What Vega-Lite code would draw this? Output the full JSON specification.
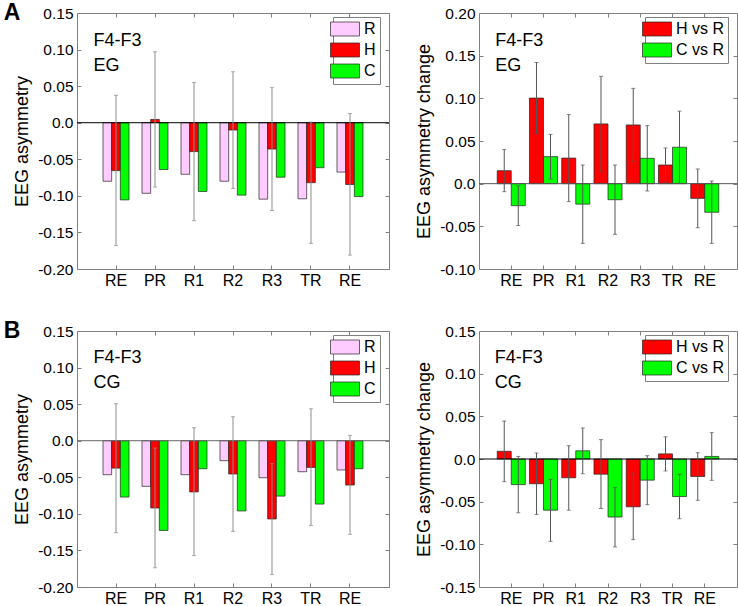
{
  "$schema": "https://vega.github.io/schema/vega-lite/v6.json",
  "padding": {"left": 3, "top": 1, "right": 0, "bottom": 0},
  "datasets": {
    "dA": [
      {"phase": "RE", "grp": "R", "val": -0.080},
      {"phase": "RE", "grp": "H", "val": -0.0655, "lo": -0.168, "hi": 0.0375},
      {"phase": "RE", "grp": "C", "val": -0.1055},
      {"phase": "PR", "grp": "R", "val": -0.0965},
      {"phase": "PR", "grp": "H", "val": 0.0045, "lo": -0.088, "hi": 0.097},
      {"phase": "PR", "grp": "C", "val": -0.064},
      {"phase": "R1", "grp": "R", "val": -0.0705},
      {"phase": "R1", "grp": "H", "val": -0.0395, "lo": -0.134, "hi": 0.055},
      {"phase": "R1", "grp": "C", "val": -0.094},
      {"phase": "R2", "grp": "R", "val": -0.080},
      {"phase": "R2", "grp": "H", "val": -0.010, "lo": -0.0898, "hi": 0.0697},
      {"phase": "R2", "grp": "C", "val": -0.099},
      {"phase": "R3", "grp": "R", "val": -0.1045},
      {"phase": "R3", "grp": "H", "val": -0.036, "lo": -0.120, "hi": 0.048},
      {"phase": "R3", "grp": "C", "val": -0.0745},
      {"phase": "TR", "grp": "R", "val": -0.104},
      {"phase": "TR", "grp": "H", "val": -0.082, "lo": -0.165, "hi": 0.001},
      {"phase": "TR", "grp": "C", "val": -0.0615},
      {"phase": "RE (end)", "grp": "R", "val": -0.0675},
      {"phase": "RE (end)", "grp": "H", "val": -0.0845, "lo": -0.181, "hi": 0.0125},
      {"phase": "RE (end)", "grp": "C", "val": -0.101}
    ],
    "dB": [
      {"phase": "RE", "grp": "H vs R", "val": 0.0152, "lo": -0.0094, "hi": 0.040},
      {"phase": "RE", "grp": "C vs R", "val": -0.0258, "lo": -0.049, "hi": -0.0026},
      {"phase": "PR", "grp": "H vs R", "val": 0.1003, "lo": 0.059, "hi": 0.142},
      {"phase": "PR", "grp": "C vs R", "val": 0.0317, "lo": 0.0055, "hi": 0.0578},
      {"phase": "R1", "grp": "H vs R", "val": 0.030, "lo": -0.021, "hi": 0.081},
      {"phase": "R1", "grp": "C vs R", "val": -0.024, "lo": -0.070, "hi": 0.0219},
      {"phase": "R2", "grp": "H vs R", "val": 0.070, "lo": 0.014, "hi": 0.1258},
      {"phase": "R2", "grp": "C vs R", "val": -0.0188, "lo": -0.0594, "hi": 0.0219},
      {"phase": "R3", "grp": "H vs R", "val": 0.0688, "lo": 0.0258, "hi": 0.1117},
      {"phase": "R3", "grp": "C vs R", "val": 0.0297, "lo": -0.0086, "hi": 0.068},
      {"phase": "TR", "grp": "H vs R", "val": 0.0219, "lo": 0.002, "hi": 0.0418},
      {"phase": "TR", "grp": "C vs R", "val": 0.0427, "lo": 0.0004, "hi": 0.085},
      {"phase": "RE (end)", "grp": "H vs R", "val": -0.0172, "lo": -0.0516, "hi": 0.0172},
      {"phase": "RE (end)", "grp": "C vs R", "val": -0.0335, "lo": -0.070, "hi": 0.0031}
    ],
    "dC": [
      {"phase": "RE", "grp": "R", "val": -0.0465},
      {"phase": "RE", "grp": "H", "val": -0.0375, "lo": -0.1258, "hi": 0.0506},
      {"phase": "RE", "grp": "C", "val": -0.077},
      {"phase": "PR", "grp": "R", "val": -0.0624},
      {"phase": "PR", "grp": "H", "val": -0.092, "lo": -0.1737, "hi": -0.010},
      {"phase": "PR", "grp": "C", "val": -0.1226},
      {"phase": "R1", "grp": "R", "val": -0.0465},
      {"phase": "R1", "grp": "H", "val": -0.070, "lo": -0.157, "hi": 0.0178},
      {"phase": "R1", "grp": "C", "val": -0.0383},
      {"phase": "R2", "grp": "R", "val": -0.0273},
      {"phase": "R2", "grp": "H", "val": -0.0455, "lo": -0.124, "hi": 0.0328},
      {"phase": "R2", "grp": "C", "val": -0.096},
      {"phase": "R3", "grp": "R", "val": -0.0506},
      {"phase": "R3", "grp": "H", "val": -0.107, "lo": -0.183, "hi": -0.0314},
      {"phase": "R3", "grp": "C", "val": -0.0757},
      {"phase": "TR", "grp": "R", "val": -0.0424},
      {"phase": "TR", "grp": "H", "val": -0.0365, "lo": -0.116, "hi": 0.0437},
      {"phase": "TR", "grp": "C", "val": -0.0866},
      {"phase": "RE (end)", "grp": "R", "val": -0.040},
      {"phase": "RE (end)", "grp": "H", "val": -0.0606, "lo": -0.128, "hi": 0.0073},
      {"phase": "RE (end)", "grp": "C", "val": -0.0383}
    ],
    "dD": [
      {"phase": "RE", "grp": "H vs R", "val": 0.009, "lo": -0.0266, "hi": 0.0445},
      {"phase": "RE", "grp": "C vs R", "val": -0.030, "lo": -0.063, "hi": 0.003},
      {"phase": "PR", "grp": "H vs R", "val": -0.029, "lo": -0.065, "hi": 0.007},
      {"phase": "PR", "grp": "C vs R", "val": -0.060, "lo": -0.0965, "hi": -0.0238},
      {"phase": "R1", "grp": "H vs R", "val": -0.022, "lo": -0.060, "hi": 0.0156},
      {"phase": "R1", "grp": "C vs R", "val": 0.0096, "lo": -0.0172, "hi": 0.0363},
      {"phase": "R2", "grp": "H vs R", "val": -0.0178, "lo": -0.058, "hi": 0.0227},
      {"phase": "R2", "grp": "C vs R", "val": -0.068, "lo": -0.103, "hi": -0.0336},
      {"phase": "R3", "grp": "H vs R", "val": -0.056, "lo": -0.0945, "hi": -0.0172},
      {"phase": "R3", "grp": "C vs R", "val": -0.0248, "lo": -0.0535, "hi": 0.0039},
      {"phase": "TR", "grp": "H vs R", "val": 0.006, "lo": -0.014, "hi": 0.026},
      {"phase": "TR", "grp": "C vs R", "val": -0.044, "lo": -0.070, "hi": -0.018},
      {"phase": "RE (end)", "grp": "H vs R", "val": -0.0205, "lo": -0.0484, "hi": 0.0074},
      {"phase": "RE (end)", "grp": "C vs R", "val": 0.003, "lo": -0.025, "hi": 0.0309}
    ]
  },
  "config": {
    "font": "Liberation Sans",
    "view": {"stroke": "#808080", "strokeWidth": 1},
    "axis": {
      "domain": false, "grid": false, "tickColor": "#808080", "tickSize": -4, "labelPadding": 8,
      "labelFont": "Liberation Sans", "labelFontSize": 15.5, "labelColor": "#000",
      "titleFont": "Liberation Sans", "titleFontSize": 18, "titleFontWeight": "normal", "titleColor": "#000", "titlePadding": 6
    },
    "legend": {
      "orient": "none", "title": null,
      "symbolType": "M-2.07,-1H2.07V1H-2.07Z", "symbolSize": 196,
      "symbolStrokeColor": "#222", "symbolStrokeWidth": 0.7, "symbolOpacity": 1,
      "labelFont": "Liberation Sans", "labelFontSize": 16, "labelColor": "#000", "labelOffset": 11,
      "rowPadding": 3, "padding": 4, "strokeColor": "#808080", "fillColor": "white"
    }
  },
  "columns": 2,
  "spacing": {"row": 62, "column": 90},
  "bounds": "flush",
  "resolve": {"scale": {"fill": "independent", "xOffset": "independent"}, "legend": {"fill": "independent"}},
  "concat": [
    {
      "width": 312, "height": 256,
      "data": {"name": "dA"},
      "resolve": {"axis": {"x": "independent", "y": "independent"}},
      "layer": [
        {
          "mark": {"type": "bar", "stroke": "#222", "strokeWidth": 0.7, "width": {"band": 1}},
          "encoding": {
            "x": {"field": "phase", "type": "nominal", "scale": {"type": "band", "domain": ["RE", "PR", "R1", "R2", "R3", "TR", "RE (end)"], "paddingInner": 0.3333, "paddingOuter": 0.6667}, "axis": {"orient": "bottom", "title": null, "labelAngle": 0, "labelFontSize": 16, "labelPadding": 7.5, "labelExpr": "datum.label == 'RE (end)' ? 'RE' : datum.label"}},
            "xOffset": {"field": "grp", "type": "nominal", "scale": {"type": "band", "domain": ["R", "H", "C"], "paddingInner": 0, "paddingOuter": 0}},
            "y": {"field": "val", "type": "quantitative", "scale": {"domain": [-0.2, 0.15], "nice": false, "zero": false}, "axis": {"orient": "left", "title": "EEG asymmetry", "values": [-0.2, -0.15, -0.1, -0.05, 0, 0.05, 0.1, 0.15], "labelExpr": "datum.value == 0 ? '0.0' : replace(format(datum.value, '.2f'), '\u2212', '-')"}},
            "fill": {"field": "grp", "type": "nominal", "scale": {"domain": ["R", "H", "C"], "range": ["#FFCCFF", "#FF0000", "#00FF00"]}, "legend": {"legendX": 256, "legendY": 4}}
          }
        },
        {
          "mark": {"type": "bar", "opacity": 0, "width": {"band": 1}},
          "encoding": {
            "x": {"field": "phase", "type": "nominal", "axis": {"orient": "top", "labels": false, "title": null}},
            "xOffset": {"field": "grp", "type": "nominal"},
            "y": {"field": "val", "type": "quantitative", "axis": {"orient": "right", "labels": false, "title": null, "values": [-0.2, -0.15, -0.1, -0.05, 0, 0.05, 0.1, 0.15]}}
          }
        },
        {
          "data": {"values": [{}]},
          "mark": {"type": "rule", "color": "#000", "strokeWidth": 1},
          "encoding": {"y": {"datum": 0, "type": "quantitative", "axis": null}}
        },
        {
          "transform": [{"filter": "datum.lo != null"}],
          "mark": {"type": "rule", "color": "#8c8c8c", "strokeWidth": 1},
          "encoding": {
            "x": {"field": "phase", "type": "nominal", "axis": null},
            "xOffset": {"field": "grp", "type": "nominal"},
            "y": {"field": "lo", "type": "quantitative", "axis": null},
            "y2": {"field": "hi"}
          }
        },
        {
          "transform": [{"filter": "datum.lo != null"}],
          "mark": {"type": "tick", "color": "#8c8c8c", "size": 4, "thickness": 1},
          "encoding": {
            "x": {"field": "phase", "type": "nominal", "axis": null},
            "xOffset": {"field": "grp", "type": "nominal"},
            "y": {"field": "lo", "type": "quantitative", "axis": null}
          }
        },
        {
          "transform": [{"filter": "datum.lo != null"}],
          "mark": {"type": "tick", "color": "#8c8c8c", "size": 4, "thickness": 1},
          "encoding": {
            "x": {"field": "phase", "type": "nominal", "axis": null},
            "xOffset": {"field": "grp", "type": "nominal"},
            "y": {"field": "hi", "type": "quantitative", "axis": null}
          }
        },
        {
          "data": {"values": [{"note": "F4-F3\nEG"}]},
          "mark": {"type": "text", "align": "left", "baseline": "top", "dx": -22.5, "fontSize": 18, "lineHeight": 25, "lineBreak": "\n"},
          "encoding": {
            "x": {"datum": "RE", "type": "nominal", "axis": null},
            "y": {"datum": 0.124, "type": "quantitative", "axis": null},
            "text": {"field": "note"}
          }
        },
        {
          "data": {"values": [{"tag": "A"}]},
          "mark": {"type": "text", "align": "center", "baseline": "middle", "dx": -104, "fontSize": 23, "fontWeight": "bold"},
          "encoding": {
            "x": {"datum": "RE", "type": "nominal", "axis": null},
            "y": {"datum": 0.15, "type": "quantitative", "axis": null},
            "text": {"field": "tag"}
          }
        }
      ]
    },
    {
      "width": 258, "height": 256,
      "data": {"name": "dB"},
      "resolve": {"axis": {"x": "independent", "y": "independent"}},
      "layer": [
        {
          "mark": {"type": "bar", "stroke": "#222", "strokeWidth": 0.7, "width": {"band": 1}},
          "encoding": {
            "x": {"field": "phase", "type": "nominal", "scale": {"type": "band", "domain": ["RE", "PR", "R1", "R2", "R3", "TR", "RE (end)"], "paddingInner": 0.13, "paddingOuter": 0.565}, "axis": {"orient": "bottom", "title": null, "labelAngle": 0, "labelFontSize": 16, "labelPadding": 7.5, "labelExpr": "datum.label == 'RE (end)' ? 'RE' : datum.label"}},
            "xOffset": {"field": "grp", "type": "nominal", "scale": {"type": "band", "domain": ["H vs R", "C vs R"], "paddingInner": 0, "paddingOuter": 0}},
            "y": {"field": "val", "type": "quantitative", "scale": {"domain": [-0.1, 0.2], "nice": false, "zero": false}, "axis": {"orient": "left", "title": "EEG asymmetry change", "values": [-0.1, -0.05, 0, 0.05, 0.1, 0.15, 0.2], "labelExpr": "datum.value == 0 ? '0.0' : replace(format(datum.value, '.2f'), '\u2212', '-')"}},
            "fill": {"field": "grp", "type": "nominal", "scale": {"domain": ["H vs R", "C vs R"], "range": ["#FF0000", "#00FF00"]}, "legend": {"legendX": 166, "legendY": 4}}
          }
        },
        {
          "mark": {"type": "bar", "opacity": 0, "width": {"band": 1}},
          "encoding": {
            "x": {"field": "phase", "type": "nominal", "axis": {"orient": "top", "labels": false, "title": null}},
            "xOffset": {"field": "grp", "type": "nominal"},
            "y": {"field": "val", "type": "quantitative", "axis": {"orient": "right", "labels": false, "title": null, "values": [-0.1, -0.05, 0, 0.05, 0.1, 0.15, 0.2]}}
          }
        },
        {
          "data": {"values": [{}]},
          "mark": {"type": "rule", "color": "#555", "strokeWidth": 1},
          "encoding": {"y": {"datum": 0, "type": "quantitative", "axis": null}}
        },
        {
          "mark": {"type": "rule", "color": "#555", "strokeWidth": 1},
          "encoding": {
            "x": {"field": "phase", "type": "nominal", "axis": null},
            "xOffset": {"field": "grp", "type": "nominal"},
            "y": {"field": "lo", "type": "quantitative", "axis": null},
            "y2": {"field": "hi"}
          }
        },
        {
          "mark": {"type": "tick", "color": "#555", "size": 4, "thickness": 1},
          "encoding": {
            "x": {"field": "phase", "type": "nominal", "axis": null},
            "xOffset": {"field": "grp", "type": "nominal"},
            "y": {"field": "lo", "type": "quantitative", "axis": null}
          }
        },
        {
          "mark": {"type": "tick", "color": "#555", "size": 4, "thickness": 1},
          "encoding": {
            "x": {"field": "phase", "type": "nominal", "axis": null},
            "xOffset": {"field": "grp", "type": "nominal"},
            "y": {"field": "hi", "type": "quantitative", "axis": null}
          }
        },
        {
          "data": {"values": [{"note": "F4-F3\nEG"}]},
          "mark": {"type": "text", "align": "left", "baseline": "top", "dx": -16, "fontSize": 18, "lineHeight": 25, "lineBreak": "\n"},
          "encoding": {
            "x": {"datum": "RE", "type": "nominal", "axis": null},
            "y": {"datum": 0.1777, "type": "quantitative", "axis": null},
            "text": {"field": "note"}
          }
        }
      ]
    },
    {
      "width": 312, "height": 256,
      "data": {"name": "dC"},
      "resolve": {"axis": {"x": "independent", "y": "independent"}},
      "layer": [
        {
          "mark": {"type": "bar", "stroke": "#222", "strokeWidth": 0.7, "width": {"band": 1}},
          "encoding": {
            "x": {"field": "phase", "type": "nominal", "scale": {"type": "band", "domain": ["RE", "PR", "R1", "R2", "R3", "TR", "RE (end)"], "paddingInner": 0.3333, "paddingOuter": 0.6667}, "axis": {"orient": "bottom", "title": null, "labelAngle": 0, "labelFontSize": 16, "labelPadding": 7.5, "labelExpr": "datum.label == 'RE (end)' ? 'RE' : datum.label"}},
            "xOffset": {"field": "grp", "type": "nominal", "scale": {"type": "band", "domain": ["R", "H", "C"], "paddingInner": 0, "paddingOuter": 0}},
            "y": {"field": "val", "type": "quantitative", "scale": {"domain": [-0.2, 0.15], "nice": false, "zero": false}, "axis": {"orient": "left", "title": "EEG asymmetry", "values": [-0.2, -0.15, -0.1, -0.05, 0, 0.05, 0.1, 0.15], "labelExpr": "datum.value == 0 ? '0.0' : replace(format(datum.value, '.2f'), '\u2212', '-')"}},
            "fill": {"field": "grp", "type": "nominal", "scale": {"domain": ["R", "H", "C"], "range": ["#FFCCFF", "#FF0000", "#00FF00"]}, "legend": {"legendX": 256, "legendY": 4}}
          }
        },
        {
          "mark": {"type": "bar", "opacity": 0, "width": {"band": 1}},
          "encoding": {
            "x": {"field": "phase", "type": "nominal", "axis": {"orient": "top", "labels": false, "title": null}},
            "xOffset": {"field": "grp", "type": "nominal"},
            "y": {"field": "val", "type": "quantitative", "axis": {"orient": "right", "labels": false, "title": null, "values": [-0.2, -0.15, -0.1, -0.05, 0, 0.05, 0.1, 0.15]}}
          }
        },
        {
          "data": {"values": [{}]},
          "mark": {"type": "rule", "color": "#666", "strokeWidth": 1},
          "encoding": {"y": {"datum": 0, "type": "quantitative", "axis": null}}
        },
        {
          "transform": [{"filter": "datum.lo != null"}],
          "mark": {"type": "rule", "color": "#8c8c8c", "strokeWidth": 1},
          "encoding": {
            "x": {"field": "phase", "type": "nominal", "axis": null},
            "xOffset": {"field": "grp", "type": "nominal"},
            "y": {"field": "lo", "type": "quantitative", "axis": null},
            "y2": {"field": "hi"}
          }
        },
        {
          "transform": [{"filter": "datum.lo != null"}],
          "mark": {"type": "tick", "color": "#8c8c8c", "size": 4, "thickness": 1},
          "encoding": {
            "x": {"field": "phase", "type": "nominal", "axis": null},
            "xOffset": {"field": "grp", "type": "nominal"},
            "y": {"field": "lo", "type": "quantitative", "axis": null}
          }
        },
        {
          "transform": [{"filter": "datum.lo != null"}],
          "mark": {"type": "tick", "color": "#8c8c8c", "size": 4, "thickness": 1},
          "encoding": {
            "x": {"field": "phase", "type": "nominal", "axis": null},
            "xOffset": {"field": "grp", "type": "nominal"},
            "y": {"field": "hi", "type": "quantitative", "axis": null}
          }
        },
        {
          "data": {"values": [{"note": "F4-F3\nCG"}]},
          "mark": {"type": "text", "align": "left", "baseline": "top", "dx": -22.5, "fontSize": 18, "lineHeight": 25, "lineBreak": "\n"},
          "encoding": {
            "x": {"datum": "RE", "type": "nominal", "axis": null},
            "y": {"datum": 0.1254, "type": "quantitative", "axis": null},
            "text": {"field": "note"}
          }
        },
        {
          "data": {"values": [{"tag": "B"}]},
          "mark": {"type": "text", "align": "center", "baseline": "middle", "dx": -104, "fontSize": 23, "fontWeight": "bold"},
          "encoding": {
            "x": {"datum": "RE", "type": "nominal", "axis": null},
            "y": {"datum": 0.15, "type": "quantitative", "axis": null},
            "text": {"field": "tag"}
          }
        }
      ]
    },
    {
      "width": 258, "height": 256,
      "data": {"name": "dD"},
      "resolve": {"axis": {"x": "independent", "y": "independent"}},
      "layer": [
        {
          "mark": {"type": "bar", "stroke": "#222", "strokeWidth": 0.7, "width": {"band": 1}},
          "encoding": {
            "x": {"field": "phase", "type": "nominal", "scale": {"type": "band", "domain": ["RE", "PR", "R1", "R2", "R3", "TR", "RE (end)"], "paddingInner": 0.13, "paddingOuter": 0.565}, "axis": {"orient": "bottom", "title": null, "labelAngle": 0, "labelFontSize": 16, "labelPadding": 7.5, "labelExpr": "datum.label == 'RE (end)' ? 'RE' : datum.label"}},
            "xOffset": {"field": "grp", "type": "nominal", "scale": {"type": "band", "domain": ["H vs R", "C vs R"], "paddingInner": 0, "paddingOuter": 0}},
            "y": {"field": "val", "type": "quantitative", "scale": {"domain": [-0.15, 0.15], "nice": false, "zero": false}, "axis": {"orient": "left", "title": "EEG asymmetry change", "values": [-0.15, -0.1, -0.05, 0, 0.05, 0.1, 0.15], "labelExpr": "datum.value == 0 ? '0.0' : replace(format(datum.value, '.2f'), '\u2212', '-')"}},
            "fill": {"field": "grp", "type": "nominal", "scale": {"domain": ["H vs R", "C vs R"], "range": ["#FF0000", "#00FF00"]}, "legend": {"legendX": 166, "legendY": 4}}
          }
        },
        {
          "mark": {"type": "bar", "opacity": 0, "width": {"band": 1}},
          "encoding": {
            "x": {"field": "phase", "type": "nominal", "axis": {"orient": "top", "labels": false, "title": null}},
            "xOffset": {"field": "grp", "type": "nominal"},
            "y": {"field": "val", "type": "quantitative", "axis": {"orient": "right", "labels": false, "title": null, "values": [-0.15, -0.1, -0.05, 0, 0.05, 0.1, 0.15]}}
          }
        },
        {
          "data": {"values": [{}]},
          "mark": {"type": "rule", "color": "#000", "strokeWidth": 1},
          "encoding": {"y": {"datum": 0, "type": "quantitative", "axis": null}}
        },
        {
          "mark": {"type": "rule", "color": "#555", "strokeWidth": 1},
          "encoding": {
            "x": {"field": "phase", "type": "nominal", "axis": null},
            "xOffset": {"field": "grp", "type": "nominal"},
            "y": {"field": "lo", "type": "quantitative", "axis": null},
            "y2": {"field": "hi"}
          }
        },
        {
          "mark": {"type": "tick", "color": "#555", "size": 4, "thickness": 1},
          "encoding": {
            "x": {"field": "phase", "type": "nominal", "axis": null},
            "xOffset": {"field": "grp", "type": "nominal"},
            "y": {"field": "lo", "type": "quantitative", "axis": null}
          }
        },
        {
          "mark": {"type": "tick", "color": "#555", "size": 4, "thickness": 1},
          "encoding": {
            "x": {"field": "phase", "type": "nominal", "axis": null},
            "xOffset": {"field": "grp", "type": "nominal"},
            "y": {"field": "hi", "type": "quantitative", "axis": null}
          }
        },
        {
          "data": {"values": [{"note": "F4-F3\nCG"}]},
          "mark": {"type": "text", "align": "left", "baseline": "top", "dx": -16.5, "fontSize": 18, "lineHeight": 25, "lineBreak": "\n"},
          "encoding": {
            "x": {"datum": "RE", "type": "nominal", "axis": null},
            "y": {"datum": 0.129, "type": "quantitative", "axis": null},
            "text": {"field": "note"}
          }
        }
      ]
    }
  ]
}
